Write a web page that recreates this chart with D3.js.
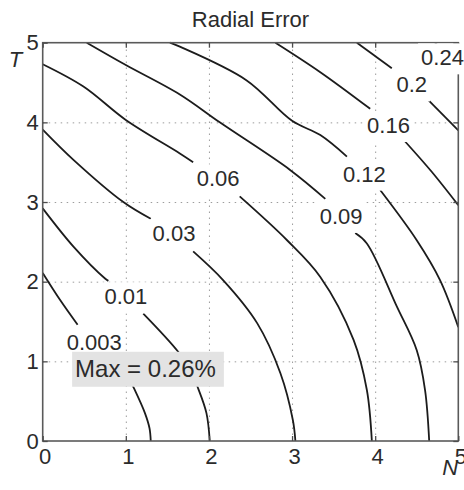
<!DOCTYPE html>
<html>
<head>
<meta charset="utf-8">
<script src="https://cdn.jsdelivr.net/npm/d3@7/dist/d3.min.js"></script>
<style>
  body { margin: 0; background: #fff; }
  svg text { font-family: "Liberation Sans", Arial, sans-serif; fill: #2b2b2b; }
  .grid line { stroke: #9c9c9c; stroke-width: 1; stroke-dasharray: 1.5,4.5; }
  .grid path { display: none; }
  .axis path { display: none; }
  .axis line { stroke: #4d4d4d; stroke-width: 1.3; }
  .axis text { font-size: 22px; }
  .contour { fill: none; stroke: #1c1c1c; stroke-width: 1.8; }
  .frame { fill: none; stroke: #5a5a5a; stroke-width: 1.6; }
  .clabel text { font-size: 22px; }
</style>
</head>
<body>
<svg id="chart"></svg>
<script>
// contour levels (percent)
const levels = [0.003, 0.01, 0.03, 0.06, 0.09, 0.12, 0.16, 0.2, 0.24];

// visible pieces of each contour, [N, T] pairs, broken where the label sits
const contourPieces = [
  [[[0, 2.11], [0.21, 1.77], [0.42, 1.46]],
   [[1.00, 0.87], [1.09, 0.68], [1.23, 0.35], [1.285, 0.16], [1.30, 0]]],
  [[[0, 2.92], [0.37, 2.44], [0.75, 2.04], [0.79, 2.01]],
   [[1.21, 1.60], [1.63, 1.12], [1.78, 0.88], [1.87, 0.66], [1.97, 0.35], [2.01, 0]]],
  [[[0, 3.91], [0.37, 3.53], [0.97, 3.0], [1.30, 2.79]],
   [[1.81, 2.38], [2.17, 2.02], [2.58, 1.48], [2.86, 0.85], [3.01, 0.26], [3.04, 0]]],
  [[[0, 4.73], [0.49, 4.45], [1.00, 4.03], [1.65, 3.61], [1.81, 3.50]],
   [[2.37, 3.07], [2.94, 2.52], [3.34, 2.06], [3.74, 1.27], [3.90, 0.64], [3.96, 0]]],
  [[[0.53, 5], [1.00, 4.72], [1.65, 4.35], [2.13, 4.00], [2.98, 3.40], [3.40, 3.04]],
   [[3.76, 2.61], [3.90, 2.48], [4.26, 1.69], [4.50, 1.14], [4.60, 0.64], [4.65, 0]]],
  [[[1.53, 5], [1.65, 4.95], [2.45, 4.53], [3.00, 4.02], [3.34, 3.84], [3.66, 3.57]],
   [[4.06, 3.15], [4.50, 2.52], [4.78, 2.02], [5, 1.43]]],
  [[[2.80, 5], [3.34, 4.63], [3.94, 4.17]],
   [[4.36, 3.76], [4.68, 3.38], [5, 2.96]]],
  [[[3.78, 5], [4.20, 4.68]],
   [[4.64, 4.28], [5, 3.90]]],
  [[[4.72, 5], [5, 4.70]]]
];

// where each level's label sits, [N, T]
const labelAt = [
  [0.62, 1.24], [1.00, 1.81], [1.58, 2.60], [2.11, 3.29], [3.59, 2.82],
  [3.87, 3.35], [4.16, 3.96], [4.44, 4.47], [4.81, 4.81]
];

const nTicks = [0, 1, 2, 3, 4, 5];
const tTicks = [0, 1, 2, 3, 4, 5];
const gridValues = [1, 2, 3, 4];
const maxError = 0.26;

class ContourPlot {
  constructor(config) {
    this.config = {
      parentElement: config.parentElement,
      containerWidth: config.containerWidth ?? 464,
      containerHeight: config.containerHeight ?? 490,
      margin: config.margin ?? { top: 42.7, right: 5.7, bottom: 49, left: 42.7 },
      title: config.title ?? ''
    };
    this.initVis();
  }

  initVis() {
    const vis = this;
    const m = vis.config.margin;
    vis.width = vis.config.containerWidth - m.left - m.right;
    vis.height = vis.config.containerHeight - m.top - m.bottom;

    vis.xScale = d3.scaleLinear().domain([0, 5]).range([0, vis.width]);
    vis.yScale = d3.scaleLinear().domain([0, 5]).range([vis.height, 0]);

    vis.svg = d3.select(vis.config.parentElement)
      .attr('width', vis.config.containerWidth)
      .attr('height', vis.config.containerHeight);

    vis.chart = vis.svg.append('g')
      .attr('transform', `translate(${m.left},${m.top})`);

    vis.line = d3.line()
      .x(d => vis.xScale(d[0]))
      .y(d => vis.yScale(d[1]))
      .curve(d3.curveCatmullRom.alpha(0.5));
  }

  render() {
    const vis = this;

    // dotted grid
    vis.chart.append('g')
      .attr('class', 'grid')
      .attr('transform', `translate(0,${vis.height})`)
      .call(d3.axisBottom(vis.xScale).tickValues(gridValues).tickSize(-vis.height).tickFormat(''));
    vis.chart.append('g')
      .attr('class', 'grid')
      .call(d3.axisLeft(vis.yScale).tickValues(gridValues).tickSize(-vis.width).tickFormat(''));

    // contour lines
    vis.chart.selectAll('.level')
      .data(contourPieces)
      .join('g')
      .attr('class', 'level')
      .selectAll('path')
      .data(d => d)
      .join('path')
      .attr('class', 'contour')
      .attr('d', vis.line);

    vis.chart.append('rect')
      .attr('class', 'frame')
      .attr('width', vis.width)
      .attr('height', vis.height);

    // ticks point inward on all four sides
    vis.chart.append('g')
      .attr('class', 'axis x-axis')
      .attr('transform', `translate(0,${vis.height})`)
      .call(d3.axisBottom(vis.xScale).tickValues(nTicks).tickSize(-5).tickPadding(7).tickFormat(d3.format('d')))
      .selectAll('text').attr('dx', 2);
    vis.chart.append('g')
      .attr('class', 'axis y-axis')
      .call(d3.axisLeft(vis.yScale).tickValues(tTicks).tickSize(-5).tickPadding(4).tickFormat(d3.format('d')));
    vis.chart.append('g')
      .attr('class', 'axis')
      .call(d3.axisTop(vis.xScale).tickValues(nTicks).tickSize(-5).tickFormat(''));
    vis.chart.append('g')
      .attr('class', 'axis')
      .attr('transform', `translate(${vis.width},0)`)
      .call(d3.axisRight(vis.yScale).tickValues(tTicks).tickSize(-5).tickFormat(''));

    // inline contour labels on white patches
    const labels = vis.chart.selectAll('.clabel')
      .data(levels)
      .join('g')
      .attr('class', 'clabel');
    labels.append('text')
      .attr('x', (d, i) => vis.xScale(labelAt[i][0]))
      .attr('y', (d, i) => vis.yScale(labelAt[i][1]))
      .attr('text-anchor', 'middle')
      .attr('dominant-baseline', 'central')
      .text(d => String(d));
    labels.each(function () {
      const g = d3.select(this);
      const b = g.select('text').node().getBBox();
      g.insert('rect', 'text')
        .attr('x', b.x - 3)
        .attr('y', b.y - 2)
        .attr('width', b.width + 6)
        .attr('height', b.height + 6)
        .attr('fill', '#fff');
    });

    // maximum error note
    const note = vis.chart.append('g');
    const noteText = note.append('text')
      .attr('x', vis.xScale(0.39))
      .attr('y', vis.yScale(0.80))
      .style('font-size', '24px')
      .text(`Max = ${maxError}%`);
    const nb = noteText.node().getBBox();
    note.insert('rect', 'text')
      .attr('x', nb.x - 3)
      .attr('y', nb.y - 3.5)
      .attr('width', nb.width + 11)
      .attr('height', nb.height + 8)
      .attr('fill', '#e3e3e3');

    // titles
    vis.chart.append('text')
      .attr('x', vis.width / 2)
      .attr('y', -15.7)
      .attr('text-anchor', 'middle')
      .style('font-size', '22px')
      .text(vis.config.title);
    vis.chart.append('text')
      .attr('x', -34)
      .attr('y', 24.3)
      .style('font-size', '22px')
      .style('font-style', 'italic')
      .text('T');
    vis.chart.append('text')
      .attr('x', vis.width - 16)
      .attr('y', vis.height + 34)
      .style('font-size', '22px')
      .style('font-style', 'italic')
      .text('N');
  }
}

const plot = new ContourPlot({ parentElement: '#chart', title: 'Radial Error' });
plot.render();
</script>
</body>
</html>
